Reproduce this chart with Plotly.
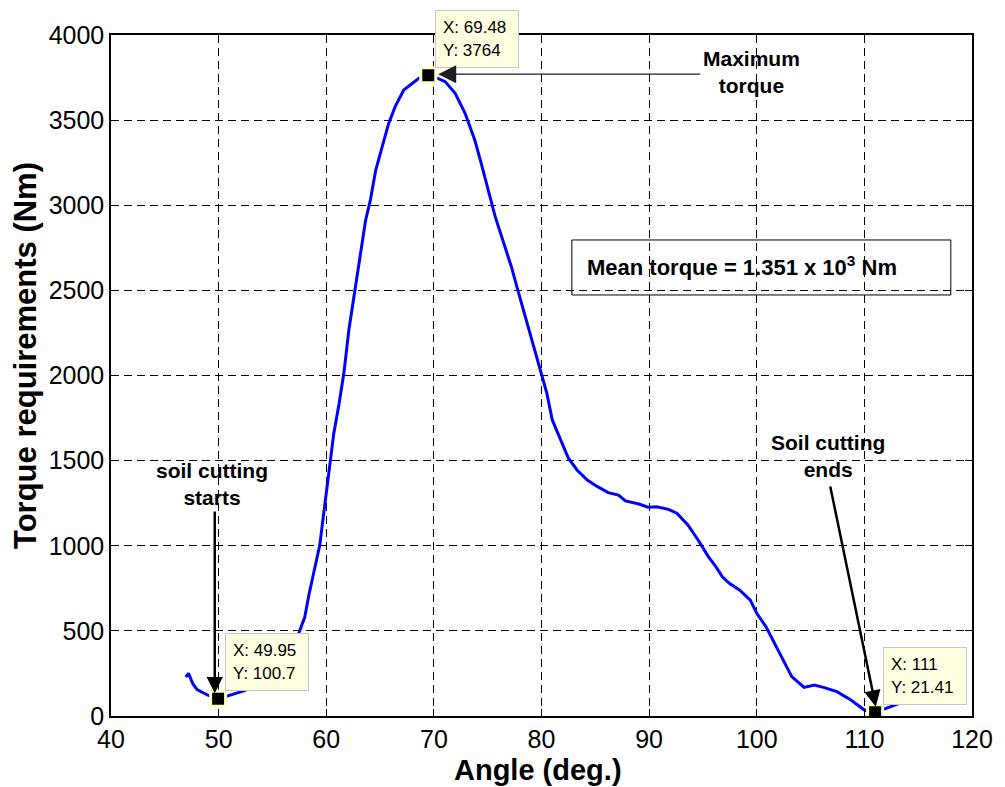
import plotly.graph_objects as go

# ---- data ----
angle = [46.95, 47.2, 47.6, 48.0, 48.6, 49.2, 49.95, 51.0, 52.4, 54.0, 55.0, 56.0, 57.0, 57.5,
         58.0, 58.4, 58.9, 59.4, 59.65, 59.96, 60.36, 60.7, 61.2, 61.65, 62.1, 62.6, 62.9,
         63.35, 63.66, 64.1, 64.6, 65.2, 65.8, 66.4, 67.2, 67.8, 68.6, 69.48, 70.1, 71.05,
         71.98, 72.9, 73.8, 74.4, 75.06, 75.7, 76.3, 77.2, 77.8, 78.75, 79.6, 80.05, 80.5,
         81.0, 81.8, 82.5, 83.3, 84.25, 85.2, 86.2, 87.15, 87.8, 89.05, 89.9, 90.7, 91.8,
         92.6, 93.6, 94.55, 95.5, 96.2, 96.8, 97.45, 98.4, 99.4, 100.0, 100.85, 101.65,
         102.45, 103.25, 104.4, 105.35, 106.2, 107.45, 108.75, 110.0, 111.0, 112.0, 113.25]
torque = [228, 250, 190, 155, 135, 117, 100.7, 123, 149, 200, 260, 330, 420, 495,
          580, 715, 858, 1004, 1132, 1288, 1504, 1660, 1837, 2020, 2267, 2483, 2600,
          2796, 2913, 3031, 3207, 3344, 3481, 3579, 3677, 3706, 3745, 3764, 3752, 3726,
          3657, 3540, 3383, 3246, 3090, 2933, 2815, 2639, 2502, 2287, 2091, 1993, 1895,
          1739, 1621, 1514, 1445, 1386, 1347, 1312, 1298, 1263, 1245, 1226, 1229, 1214,
          1190, 1122, 1034, 936, 877, 818, 779, 740, 681, 603, 525, 427,
          329, 231, 168, 182, 168, 143, 94, 35, 21.41, 45, 74]

point_x = [49.95, 69.48, 111.0]
point_y = [100.7, 3764.0, 21.41]
point_labels = ["X: 49.95<br>Y: 100.7", "X: 69.48<br>Y: 3764", "X: 111<br>Y: 21.41"]

x_ticks = [40, 50, 60, 70, 80, 90, 100, 110, 120]
y_ticks = [0, 500, 1000, 1500, 2000, 2500, 3000, 3500, 4000]

FONT = "Arial, Liberation Sans, sans-serif"

fig = go.Figure()
fig.add_trace(go.Scatter(x=angle, y=torque, mode="lines",
                         line=dict(color="rgb(0,0,255)", width=3), showlegend=False))
fig.add_trace(go.Scatter(x=point_x, y=point_y, mode="markers",
                         marker=dict(symbol="square", size=15, color="black",
                                     line=dict(color="rgb(255,255,205)", width=3)),
                         showlegend=False))

annotations = []
# data-tip boxes (x in data units, y in paper units so the top one is not hidden)
tip_pos = [(50.56, 0.1214), (70.08, 1.0367), (111.75, 0.1018)]
for (tx, ty), lab in zip(tip_pos, point_labels):
    annotations.append(dict(x=tx, y=ty, xref="x", yref="paper", text=lab, showarrow=False,
                            xanchor="left", yanchor="top", align="left",
                            font=dict(family=FONT, size=17, color="black"),
                            bgcolor="rgb(255,255,225)", bordercolor="rgb(200,200,190)",
                            borderwidth=1, borderpad=7, width=68, height=42))

bold = dict(family=FONT, size=21, color="black", weight="bold")
annotations += [
    dict(x=99.5, y=3783, xref="x", yref="y", text="Maximum<br>torque", showarrow=False,
         font=bold, align="center"),
    dict(x=70.4, y=3770, ax=94.9, ay=3770, xref="x", yref="y", axref="x", ayref="y",
         text="", showarrow=True, arrowhead=2, arrowsize=3, arrowwidth=1.2,
         arrowcolor="rgb(30,30,30)"),
    dict(x=49.4, y=1363, xref="x", yref="y", text="soil cutting<br>starts", showarrow=False,
         font=bold, align="center"),
    dict(x=49.64, y=133, ax=49.64, ay=1210, xref="x", yref="y", axref="x", ayref="y",
         text="", showarrow=True, arrowhead=2, arrowsize=1.3, arrowwidth=2.5,
         arrowcolor="black"),
    dict(x=106.66, y=1528, xref="x", yref="y", text="Soil cutting<br>ends", showarrow=False,
         font=bold, align="center"),
    dict(x=111.06, y=55, ax=106.8, ay=1357, xref="x", yref="y", axref="x", ayref="y",
         text="", showarrow=True, arrowhead=2, arrowsize=1.3, arrowwidth=2.5,
         arrowcolor="black"),
    dict(x=84.0, y=2643, xref="x", yref="y", xanchor="left", yanchor="middle",
         text="Mean torque = 1.351 x 10<sup>3</sup> Nm", showarrow=False,
         font=dict(family=FONT, size=22, color="black", weight="bold")),
    # axis titles
    dict(x=0.4963, y=-0.0795, xref="paper", yref="paper", text="Angle (deg.)",
         showarrow=False, xanchor="center", yanchor="middle",
         font=dict(family=FONT, size=29, color="black", weight="bold")),
    dict(x=-0.100, y=0.530, xref="paper", yref="paper", text="Torque requirements (Nm)",
         showarrow=False, textangle=-90, xanchor="center", yanchor="middle",
         font=dict(family=FONT, size=31, color="black", weight="bold")),
]

fig.add_shape(type="rect", x0=82.82, x1=118.03, y0=2473, y1=2796, xref="x", yref="y",
              line=dict(color="black", width=1), fillcolor="rgba(0,0,0,0)")

axis_common = dict(showline=True, linecolor="black", linewidth=1.5, mirror="ticks",
                   ticks="inside", ticklen=7, tickcolor="black", tickwidth=1,
                   showgrid=True, gridcolor="black", gridwidth=1, griddash="8px,5px",
                   zeroline=False, tickfont=dict(family=FONT, size=25, color="black"))

fig.update_layout(
    width=1005, height=787,
    margin=dict(l=111, r=28, t=35, b=71),
    paper_bgcolor="white", plot_bgcolor="white",
    xaxis=dict(range=[40, 120], tickvals=x_ticks, **axis_common),
    yaxis=dict(range=[0, 4000], tickvals=y_ticks, **axis_common),
    annotations=annotations,
    showlegend=False,
)

fig.write_html("out.html", config={"displayModeBar": False},
               post_script="document.body.style.margin='0';")
